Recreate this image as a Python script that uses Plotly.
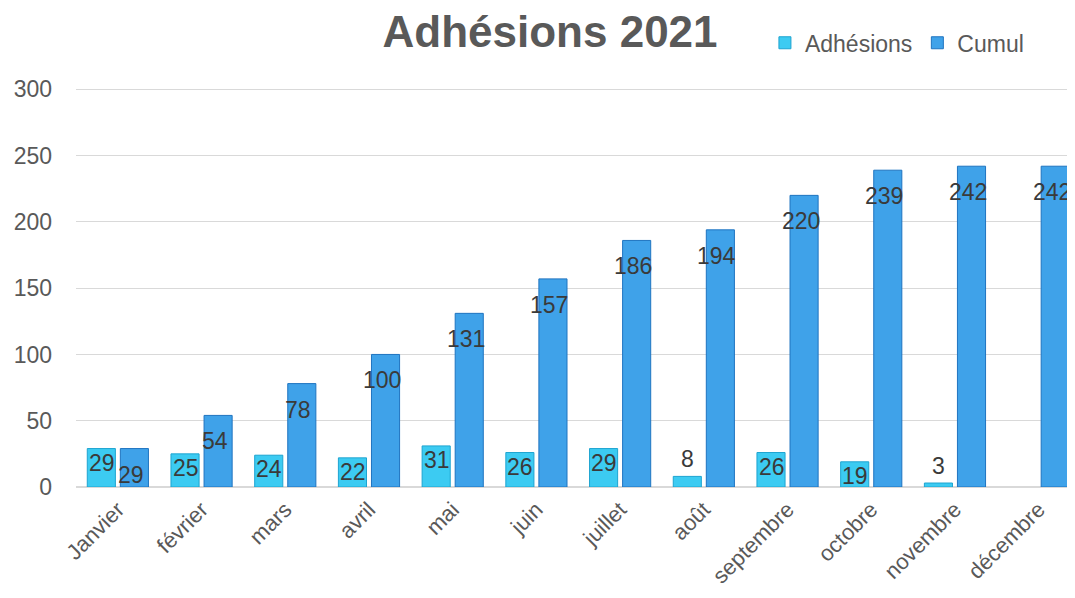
import plotly.graph_objects as go

months = ["Janvier", "février", "mars", "avril", "mai", "juin", "juillet",
          "août", "septembre", "octobre", "novembre", "décembre"]
adhesions = [29, 25, 24, 22, 31, 26, 29, 8, 26, 19, 3, None]
cumul = [29, 54, 78, 100, 131, 157, 186, 194, 220, 239, 242, 242]
y_ticks = [0, 50, 100, 150, 200, 250, 300]

FONT = "Liberation Sans, Arial, sans-serif"
GREY = "#595959"
LABEL = "#3a3a3a"

fig = go.Figure()
fig.add_trace(go.Bar(
    name="Adhésions", x=months, y=adhesions,
    marker=dict(color="#3ccbf2", line=dict(color="#1ea4d0", width=1)),
))
fig.add_trace(go.Bar(
    name="Cumul", x=months, y=cumul,
    marker=dict(color="#3fa2e9", line=dict(color="#1f74c0", width=1)),
))

annotations = []
for m, v in zip(months, adhesions):
    if v is None:
        continue
    inside = v >= 15
    annotations.append(dict(
        x=m, y=v, xref="x", yref="y", text=str(v), showarrow=False,
        xshift=-16, yanchor="top" if inside else "bottom",
        yshift=1 if inside else 2,
        font=dict(family=FONT, size=23, color=LABEL),
    ))
for m, v in zip(months, cumul):
    annotations.append(dict(
        x=m, y=v, xref="x", yref="y", text=str(v), showarrow=False,
        xshift=13, yanchor="top", yshift=-11,
        font=dict(family=FONT, size=23, color=LABEL),
    ))

# the page body adds an 8px offset, so the figure is sized to the remaining view
fig.update_layout(
    width=1067, height=590,
    margin=dict(l=68, r=2, t=80, b=111),
    paper_bgcolor="white", plot_bgcolor="white",
    barmode="group", bargap=0.21, bargroupgap=0.15,
    font=dict(family=FONT, color=GREY),
    title=dict(text="<b>Adhésions 2021</b>", x=0.508, xanchor="center",
               y=0.960, yanchor="middle",
               font=dict(family=FONT, size=44, color=GREY)),
    legend=dict(orientation="h", x=0.691, xanchor="left",
                yref="container", y=0.941, yanchor="middle",
                font=dict(family=FONT, size=23, color=GREY),
                itemwidth=30, tracegroupgap=0, bgcolor="rgba(0,0,0,0)"),
    annotations=annotations,
    showlegend=True,
)
fig.update_xaxes(
    range=[-0.5, 11.41], automargin=False,
    tickangle=-45, tickfont=dict(family=FONT, size=22, color=GREY),
    showline=True, linecolor="#d9d9d9", linewidth=1, ticks="",
)
fig.update_yaxes(
    range=[0, 301], tickvals=y_ticks, automargin=False,
    tickfont=dict(family=FONT, size=23, color=GREY),
    showgrid=True, gridcolor="#d9d9d9", gridwidth=1,
    zeroline=True, zerolinecolor="#d9d9d9", ticklabelstandoff=23,
)

fig.write_html("out.html")
